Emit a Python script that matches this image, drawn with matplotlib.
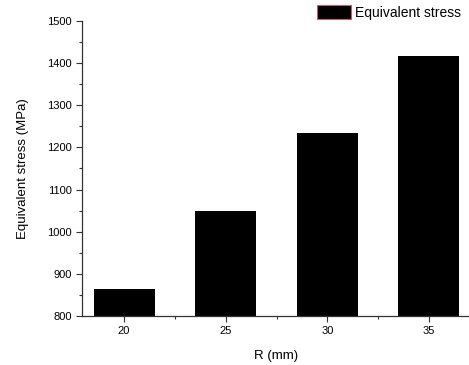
import matplotlib
matplotlib.use("Agg")
import matplotlib.pyplot as plt
from matplotlib.ticker import MultipleLocator

plt.rcParams['font.family'] = ['Liberation Sans', 'DejaVu Sans']

R = [20, 25, 30, 35]
stress = [865, 1050, 1234, 1418]

W, H = 469, 365
fig = plt.figure(figsize=(W / 100, H / 100), dpi=100)
# axes: left spine ~x=82, bottom ~y=316, top (1500) ~y=21, runs past right edge
ax = fig.add_axes([82 / W, (H - 316) / H, (471 - 82) / W, (316 - 21) / H])

ax.bar(R, stress, width=3.0, color='black', bottom=0, label='Equivalent stress')
ax.set_xlim(17.93, 37.07)
ax.set_ylim(800, 1500)

ax.set_xticks(R)
ax.set_xticks([22.5, 27.5, 32.5], minor=True)
ax.yaxis.set_major_locator(MultipleLocator(100))
ax.yaxis.set_minor_locator(MultipleLocator(50))
ax.tick_params(axis='both', which='major', length=4, width=0.8, labelsize=8,
               color='#333333', direction='out')
ax.tick_params(axis='both', which='minor', length=2.5, width=0.8,
               color='#333333', direction='out')

for s in ['top', 'right']:
    ax.spines[s].set_visible(False)
for s in ['left', 'bottom']:
    ax.spines[s].set_color('#333333')
    ax.spines[s].set_linewidth(0.9)

ax.set_xlabel('R (mm)', fontsize=9.5, labelpad=10)
ax.set_ylabel('Equivalent stress (MPa)', fontsize=9.5, labelpad=13)

leg = fig.legend(handles=[plt.Rectangle((0, 0), 1, 1, facecolor='black',
                                        edgecolor='#c06070', linewidth=0.8)],
                 labels=['Equivalent stress'], loc='upper right',
                 bbox_to_anchor=(1.0, 1.008), frameon=False, fontsize=10,
                 handlelength=2.4, handleheight=1.1, handletextpad=0.3,
                 borderaxespad=0.2)

fig.savefig('out.png', dpi=100)
